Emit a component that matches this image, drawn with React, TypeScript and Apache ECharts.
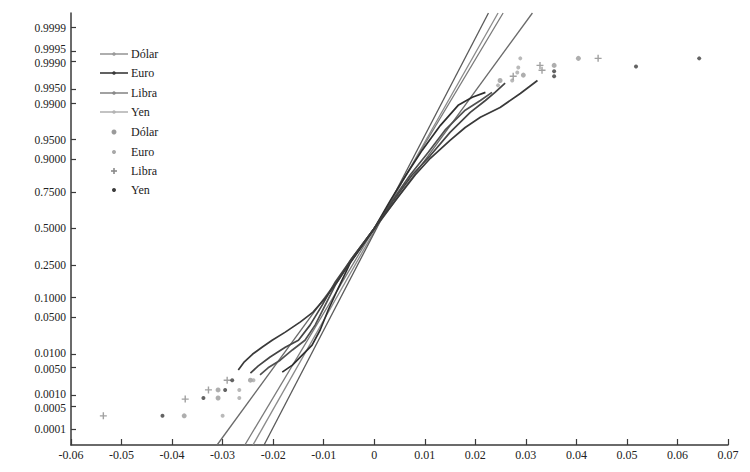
import React, { useEffect, useRef } from "react";
import * as echarts from "echarts";

// ---- data (x = daily return, z = normal score) ----
const currencies = ["Dólar", "Euro", "Libra", "Yen"];
const probTickLabels = ["0.0001", "0.0005", "0.0010", "0.0050", "0.0100", "0.0500", "0.1000", "0.2500", "0.5000", "0.7500", "0.9000", "0.9500", "0.9900", "0.9950", "0.9990", "0.9995", "0.9999"];
const xTicks = { min: -0.06, max: 0.07, step: 0.01 };

// fitted normal reference lines: x at bottom / top of the axis
const refLow = [-0.024, -0.0218, -0.0256, -0.0311];
const refHigh = [0.0245, 0.0226, 0.0255, 0.0313];

const dolarBody = [[-0.0226, -2.71], [-0.021, -2.58], [-0.0186, -2.44], [-0.0162, -2.25], [-0.0137, -2.07], [-0.0117, -1.79], [-0.0097, -1.42], [-0.0077, -1.05], [-0.0047, -0.59], [0, 0], [0.0036, 0.52], [0.0071, 0.99], [0.0107, 1.41], [0.014, 1.82], [0.018, 2.19], [0.021, 2.37], [0.0233, 2.52]];
const euroBody = [[-0.0182, -2.66], [-0.0162, -2.53], [-0.0142, -2.34], [-0.0123, -2.16], [-0.0107, -1.88], [-0.0091, -1.51], [-0.0073, -1.14], [-0.0047, -0.63], [0, 0], [0.0032, 0.52], [0.0063, 0.99], [0.0095, 1.45], [0.0131, 1.91], [0.0166, 2.28], [0.0194, 2.43], [0.022, 2.52]];
const libraBody = [[-0.0245, -2.68], [-0.023, -2.55], [-0.0206, -2.38], [-0.0176, -2.2], [-0.015, -2.07], [-0.0127, -1.79], [-0.0103, -1.42], [-0.0077, -0.99], [-0.0044, -0.55], [0, 0], [0.0038, 0.52], [0.0075, 0.99], [0.0111, 1.35], [0.015, 1.78], [0.019, 2.15], [0.022, 2.37], [0.0239, 2.52], [0.0259, 2.69]];
const yenBody = [[-0.0269, -2.62], [-0.0257, -2.47], [-0.0241, -2.33], [-0.0222, -2.2], [-0.0202, -2.07], [-0.0176, -1.92], [-0.0146, -1.73], [-0.0121, -1.55], [-0.0097, -1.29], [-0.0071, -0.96], [-0.0038, -0.49], [0, 0], [0.0042, 0.52], [0.0081, 0.99], [0.0111, 1.3], [0.015, 1.63], [0.018, 1.87], [0.021, 2.06], [0.0249, 2.24], [0.0289, 2.5], [0.0323, 2.74]];

const dolarTail = [[-0.0376, -3.47], [-0.0309, -3.14], [-0.0309, -2.99], [-0.0245, -2.81], [0.0249, 2.74], [0.0295, 2.84], [0.0356, 3.02], [0.0404, 3.15]];
const euroTail = [[-0.03, -3.47], [-0.0267, -3.14], [-0.0267, -2.99], [-0.0239, -2.81], [0.0245, 2.65], [0.0273, 2.74], [0.0283, 2.89], [0.0285, 2.98], [0.0289, 3.15]];
const libraTail = [[-0.0536, -3.47], [-0.0374, -3.16], [-0.0328, -2.99], [-0.0291, -2.81], [0.0275, 2.82], [0.0332, 2.93], [0.0328, 3.02], [0.0443, 3.15]];
const yenTail = [[-0.0419, -3.47], [-0.0338, -3.14], [-0.0295, -2.99], [-0.0281, -2.81], [0.0356, 2.82], [0.0356, 2.91], [0.0518, 3.0], [0.0643, 3.15]];

const bodies = [dolarBody, euroBody, libraBody, yenBody];
const tails = [dolarTail, euroTail, libraTail, yenTail];

// ---- styling ----
const refColors = ["#8a8a8a", "#5a5a5a", "#7a7a7a", "#6a6a6a"];
const bodyColors = ["#505050", "#2e2e2e", "#454545", "#3a3a3a"];
const legendLineColors = ["#9a9a9a", "#3a3a3a", "#8a8a8a", "#b4b4b4"];
const tailColors = ["#9a9a9a", "#a8a8a8", "#8a8a8a", "#3c3c3c"];
const PLUS = "path://M4,0h2v4h4v2h-4v4h-2v-4h-4v-2h4z";
const tailSymbols = ["circle", "circle", PLUS, "circle"];
const tailSizes = [5, 4, 7, 4];
const FONT = "'Liberation Serif', 'Times New Roman', serif";
const LABEL_SIZE = 11.5;

const Z_MIN = -4.01;
const Z_MAX = 3.99;

function norminv(p: number): number {
  const a = [-3.969683028665376e1, 2.209460984245205e2, -2.759285104469687e2, 1.38357751867269e2, -3.066479806614716e1, 2.506628277459239];
  const b = [-5.447609879822406e1, 1.615858368580409e2, -1.556989798598866e2, 6.680131188771972e1, -1.328068155288572e1];
  const c = [-7.784894002430293e-3, -3.223964580411365e-1, -2.400758277161838, -2.549732539343734, 4.374664141464968, 2.938163982698783];
  const d = [7.784695709041462e-3, 3.224671290700398e-1, 2.445134137142996, 3.754408661907416];
  const pl = 0.02425;
  if (p < pl) {
    const q = Math.sqrt(-2 * Math.log(p));
    return (((((c[0] * q + c[1]) * q + c[2]) * q + c[3]) * q + c[4]) * q + c[5]) / ((((d[0] * q + d[1]) * q + d[2]) * q + d[3]) * q + 1);
  }
  if (p > 1 - pl) {
    const q = Math.sqrt(-2 * Math.log(1 - p));
    return -(((((c[0] * q + c[1]) * q + c[2]) * q + c[3]) * q + c[4]) * q + c[5]) / ((((d[0] * q + d[1]) * q + d[2]) * q + d[3]) * q + 1);
  }
  const q = p - 0.5;
  const r = q * q;
  return ((((((a[0] * r + a[1]) * r + a[2]) * r + a[3]) * r + a[4]) * r + a[5]) * q) / (((((b[0] * r + b[1]) * r + b[2]) * r + b[3]) * r + b[4]) * r + 1);
}

// labels that sit close together are nudged apart slightly
const nudgeUp = ["0.9995", "0.9950", "0.0010", "0.0100"];
const nudgeDown = ["0.9990", "0.9900", "0.0005", "0.0050"];

export default function App() {
  const ref = useRef<HTMLDivElement>(null);
  useEffect(() => {
    if (!ref.current) return;
    const chart = echarts.init(ref.current, null, { renderer: "svg" });
    const tickZ = probTickLabels.map((l) => norminv(parseFloat(l)));

    const series: any[] = [];
    currencies.forEach((name, i) => {
      series.push({
        name: name + " ref",
        type: "line",
        data: [[refLow[i], Z_MIN], [refHigh[i], Z_MAX]],
        showSymbol: false,
        silent: true,
        lineStyle: { color: refColors[i], width: 1.3 },
        z: 1,
      });
    });
    currencies.forEach((name, i) => {
      series.push({
        name: name,
        type: "line",
        data: bodies[i],
        showSymbol: false,
        silent: true,
        lineStyle: { color: bodyColors[i], width: 1.7 },
        z: 2,
      });
    });
    currencies.forEach((name, i) => {
      series.push({
        name: name + " ",
        type: "scatter",
        data: tails[i],
        symbol: tailSymbols[i],
        symbolSize: tailSizes[i],
        itemStyle: { color: tailColors[i] },
        silent: true,
        z: 3,
      });
    });

    const rowsY = [54, 73, 93, 112, 132, 152, 171, 190];
    const legendEls: any[] = [];
    currencies.forEach((name, i) => {
      const y = rowsY[i];
      legendEls.push({ type: "line", shape: { x1: 100, y1: y, x2: 128, y2: y }, style: { stroke: legendLineColors[i], lineWidth: 1.6 } });
      legendEls.push({ type: "circle", shape: { cx: 114, cy: y, r: 1.8 }, style: { fill: legendLineColors[i] } });
      legendEls.push({ type: "text", x: 131, y: y, style: { text: name, font: `12px ${FONT}`, fill: "#222", verticalAlign: "middle" } });
    });
    currencies.forEach((name, i) => {
      const y = rowsY[i + 4];
      if (i === 2) {
        legendEls.push({ type: "line", shape: { x1: 111, y1: y, x2: 117, y2: y }, style: { stroke: tailColors[i], lineWidth: 1.6 } });
        legendEls.push({ type: "line", shape: { x1: 114, y1: y - 3, x2: 114, y2: y + 3 }, style: { stroke: tailColors[i], lineWidth: 1.6 } });
      } else {
        legendEls.push({ type: "circle", shape: { cx: 114, cy: y, r: tailSizes[i] / 2 }, style: { fill: tailColors[i] } });
      }
      legendEls.push({ type: "text", x: 131, y: y, style: { text: name, font: `12px ${FONT}`, fill: "#222", verticalAlign: "middle" } });
    });

    const axisLineStyle = { color: "#3a3a3a", width: 1.5 };
    const richBase = { fontFamily: FONT, fontSize: LABEL_SIZE, color: "#222" };
    chart.setOption({
      animation: false,
      backgroundColor: "#ffffff",
      grid: { left: 71, right: 22, top: 13, bottom: 27, containLabel: false },
      xAxis: {
        type: "value",
        min: xTicks.min,
        max: xTicks.max,
        interval: xTicks.step,
        axisLine: { show: true, onZero: false, lineStyle: axisLineStyle },
        axisTick: { show: true, inside: true, length: 6, lineStyle: { color: "#3a3a3a", width: 1.2 } },
        splitLine: { show: false },
        axisLabel: {
          margin: 4,
          fontFamily: FONT,
          fontSize: 12,
          color: "#222",
          formatter: (v: number) => (Math.abs(v) < 1e-9 ? "0" : v.toFixed(2)),
        },
      },
      yAxis: {
        type: "value",
        min: Z_MIN,
        max: Z_MAX,
        axisLine: { show: true, onZero: false, lineStyle: axisLineStyle },
        axisTick: { show: true, inside: true, length: 5, customValues: tickZ, lineStyle: { color: "#3a3a3a", width: 1.2 } },
        splitLine: { show: false },
        axisLabel: {
          margin: 5,
          fontFamily: FONT,
          fontSize: LABEL_SIZE,
          color: "#222",
          customValues: tickZ,
          rich: {
            u: { ...richBase, padding: [0, 0, 3, 0] },
            d: { ...richBase, padding: [3, 0, 0, 0] },
            n: { ...richBase },
          },
          formatter: (v: number) => {
            let best = 0;
            for (let k = 0; k < tickZ.length; k++) if (Math.abs(tickZ[k] - v) < Math.abs(tickZ[best] - v)) best = k;
            const lab = probTickLabels[best];
            const key = nudgeUp.includes(lab) ? "u" : nudgeDown.includes(lab) ? "d" : "n";
            return `{${key}|${lab}}`;
          },
        },
      },
      graphic: legendEls,
      series,
    });
    return () => chart.dispose();
  }, []);
  return <div ref={ref} style={{ position: "fixed", left: 0, top: 0, width: 750, height: 472 }} />;
}
